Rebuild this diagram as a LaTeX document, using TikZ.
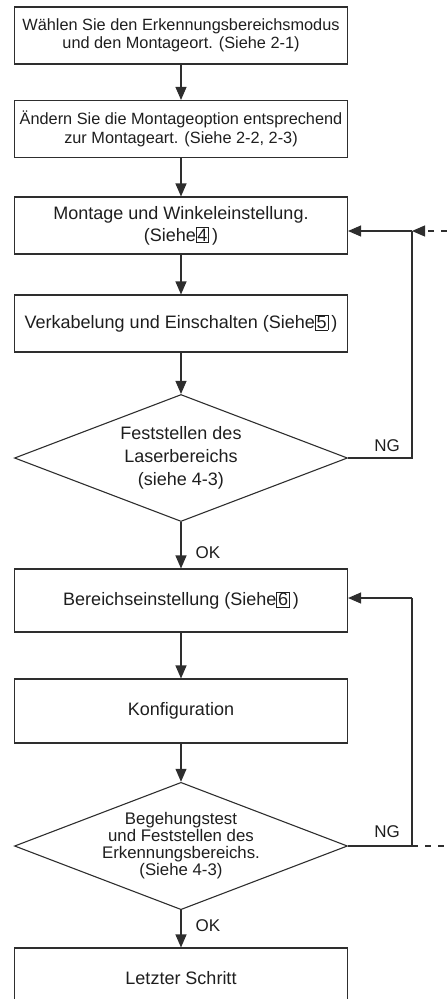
\documentclass[tikz,border=0pt]{standalone}
\usepackage{fontspec}
\setmainfont{Liberation Sans}
\usetikzlibrary{shapes.geometric,arrows.meta}
\definecolor{lncol}{HTML}{2E2E2E}
\definecolor{txcol}{HTML}{1E1E1E}
\newcommand{\bnum}[1]{{\setlength{\fboxsep}{0.9pt}\setlength{\fboxrule}{0.8pt}\fbox{#1}}}
\begin{document}
\begin{tikzpicture}[x=1pt,y=-1pt,
  box/.style={draw=lncol, line width=1.1pt, minimum width=333pt, minimum height=57pt,
    inner sep=2pt, align=center, text=txcol, font=\fontsize{18}{22}\selectfont},
  sbox/.style={box, font=\fontsize{16.3}{18.3}\selectfont},
  dec/.style={draw=lncol, diamond, line width=1.1pt, minimum width=333pt, minimum height=127pt,
    aspect=2.6, inner sep=0pt, align=center, text=txcol},
  conn/.style={draw=lncol, line width=1.1pt},
  arr/.style={conn, -{Triangle[length=13pt,width=11pt]}},
  dsh/.style={dash pattern=on 6pt off 7pt},
  lab/.style={inner sep=0pt, text=txcol, font=\fontsize{17}{19}\selectfont}
]
\useasboundingbox (0,0) rectangle (447,999);
\clip (0,0) rectangle (447,999);

\node[sbox] (b1) at (181,35.5) {Wählen Sie den Erkennungsbereichsmodus\\und den Montageort. (Siehe 2-1)};
\node[sbox] (b2) at (181,129) {Ändern Sie die Montageoption entsprechend\\zur Montageart. (Siehe 2-2, 2-3)};
\node[box] (b3) at (181,225.5) {Montage und Winkeleinstellung.\\(Siehe\bnum{4}\,)};
\node[box] (b4) at (181,323.5) {Verkabelung und Einschalten (Siehe\bnum{5}\,)};
\node[dec, font=\fontsize{18}{23}\selectfont] (d1) at (181,458) {Feststellen des\\Laserbereichs\\(siehe 4-3)};
\node[box, minimum height=63pt] (b5) at (181,600.5) {Bereichseinstellung (Siehe\bnum{6}\,)};
\node[box, minimum height=64pt] (b6) at (181,711) {Konfiguration};
\node[dec, font=\fontsize{16.8}{17}\selectfont] (d2) at (181,846) {Begehungstest\\und Feststellen des\\Erkennungsbereichs.\\(Siehe 4-3)};
\node[box, minimum height=60pt] (b7) at (181,978) {Letzter Schritt};

\draw[arr] (b1) -- (b2);
\draw[arr] (b2) -- (b3);
\draw[arr] (b3) -- (b4);
\draw[arr] (b4) -- (d1);
\draw[arr] (d1) -- (b5);
\draw[arr] (b5) -- (b6);
\draw[arr] (b6) -- (d2);
\draw[arr] (d2) -- (b7);

\coordinate (j1) at (412,231);
\coordinate (e1) at (447,231);
\coordinate (j2) at (412,598);
\coordinate (j3) at (412,846);
\coordinate (e2) at (447,846);

\draw[conn] (d1.east) -| (j1);
\draw[arr] (j1) -- (j1 -| b3.east);
\draw[arr, dsh] (e1) -- (j1);

\draw[conn] (d2.east) -- (j3) -- (j2);
\draw[arr] (j2) -- (j2 -| b5.east);
\draw[conn, dsh] (j3) -- (e2);

\node[lab] (ng1) at (387,446) {NG};
\node[lab] (ng2) at (387,832) {NG};
\node[lab] (ok1) at (208,553) {OK};
\node[lab] (ok2) at (208,926) {OK};
\end{tikzpicture}
\end{document}
